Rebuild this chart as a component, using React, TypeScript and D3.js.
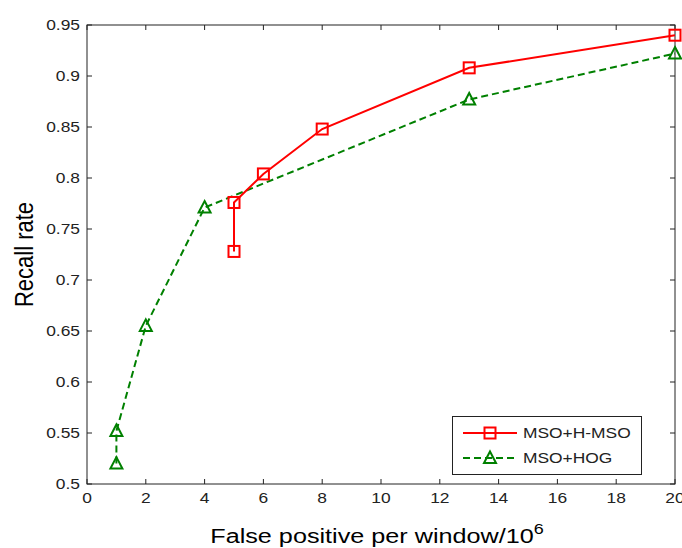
import React from 'react'
import { scaleLinear, line } from 'd3'

// readings
const msoHmsoX = [5, 5, 6, 8, 13, 20]
const msoHmsoY = [0.728, 0.776, 0.804, 0.848, 0.908, 0.940]
const msoHogX = [1, 1, 2, 4, 13, 20]
const msoHogY = [0.52, 0.552, 0.655, 0.771, 0.877, 0.922]

const xTicks = [0, 2, 4, 6, 8, 10, 12, 14, 16, 18, 20]
const yTicks = [0.5, 0.55, 0.6, 0.65, 0.7, 0.75, 0.8, 0.85, 0.9, 0.95]
const yTickLabels = ['0.5', '0.55', '0.6', '0.65', '0.7', '0.75', '0.8', '0.85', '0.9', '0.95']
const seriesNames = ['MSO+H-MSO', 'MSO+HOG']

const width = 682
const height = 548
const left = 87, right = 675, top = 25, bottom = 484
const font = 'Arial, "Liberation Sans", sans-serif'
const sx = 1.2 // the picture is a bit stretched sideways

const App = () => {
  const x = scaleLinear().domain([0, 20]).range([left, right])
  const y = scaleLinear().domain([0.5, 0.95]).range([bottom, top])

  const path = line<[number, number]>()
    .x(d => x(d[0]))
    .y(d => y(d[1]))

  const red = msoHmsoX.map((v, i) => [v, msoHmsoY[i]] as [number, number])
  const green = msoHogX.map((v, i) => [v, msoHogY[i]] as [number, number])

  const square = (cx: number, cy: number, k: string) => (
    <rect key={k} x={cx - 5.5} y={cy - 5.5} width={11} height={11} fill="none" stroke="#ff0000" strokeWidth={2} />
  )
  const tri = (cx: number, cy: number, k: string) => (
    <path key={k} d={`M${cx},${cy - 6.5}L${cx + 6},${cy + 5}L${cx - 6},${cy + 5}Z`} fill="none" stroke="#008000" strokeWidth={2} />
  )

  return (
    <svg width={width} height={height} style={{ position: 'absolute', left: 0, top: 0, background: '#fff' }}>
      <rect x={0} y={0} width={width} height={height} fill="#fff" />
      <rect x={left} y={top} width={right - left} height={bottom - top} fill="#fff" stroke="#222" strokeWidth={1} />

      {xTicks.map(t => (
        <g key={'x' + t}>
          <line x1={x(t)} x2={x(t)} y1={bottom} y2={bottom - 5} stroke="#222" />
          <line x1={x(t)} x2={x(t)} y1={top} y2={top + 5} stroke="#222" />
          <text transform={`translate(${x(t)},${503}) scale(${sx},1)`} textAnchor="middle" fontFamily={font} fontSize={14.5} fill="#222">{t}</text>
        </g>
      ))}
      {yTicks.map((t, i) => (
        <g key={'y' + t}>
          <line x1={left} x2={left + 5} y1={y(t)} y2={y(t)} stroke="#222" />
          <line x1={right} x2={right - 5} y1={y(t)} y2={y(t)} stroke="#222" />
          <text transform={`translate(${80},${y(t) + 5}) scale(${sx},1)`} textAnchor="end" fontFamily={font} fontSize={14.5} fill="#222">{yTickLabels[i]}</text>
        </g>
      ))}

      <path d={path(green) || ''} fill="none" stroke="#008000" strokeWidth={2} strokeDasharray="7,4" />
      {green.map((d, i) => tri(x(d[0]), y(d[1]), 'g' + i))}
      <path d={path(red) || ''} fill="none" stroke="#ff0000" strokeWidth={2} />
      {red.map((d, i) => square(x(d[0]), y(d[1]), 'r' + i))}

      {/* legend */}
      <rect x={452.5} y={416.5} width={189} height={58} fill="#fff" stroke="#222" />
      <line x1={463} x2={517} y1={433} y2={433} stroke="#ff0000" strokeWidth={2} />
      {square(490, 433, 'lr')}
      <text transform={`translate(523,438) scale(${sx},1)`} fontFamily={font} fontSize={14.5} fill="#222">{seriesNames[0]}</text>
      <line x1={463} x2={517} y1={458} y2={458} stroke="#008000" strokeWidth={2} strokeDasharray="7,4" />
      {tri(490, 458, 'lg')}
      <text transform={`translate(523,463) scale(${sx},1)`} fontFamily={font} fontSize={14.5} fill="#222">{seriesNames[1]}</text>

      <text transform={`translate(${(left + right) / 2 - 4},543) scale(${sx},1)`} textAnchor="middle" fontFamily={font} fontSize={21} fill="#000">
        False positive per window/10<tspan dy={-9} fontSize={15}>6</tspan>
      </text>
      <text transform={`translate(33,${(top + bottom) / 2}) rotate(-90) scale(1,${sx})`} textAnchor="middle" fontFamily={font} fontSize={22} fill="#000">
        Recall rate
      </text>
    </svg>
  )
}

export default App
